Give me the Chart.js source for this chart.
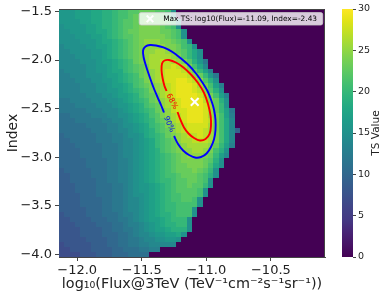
<!DOCTYPE html>
<html>
<head>
<meta charset="utf-8">
<script src="https://cdn.jsdelivr.net/npm/chart.js@4.4.1/dist/chart.umd.min.js"></script>
<style>
  html, body { margin: 0; padding: 0; background: #fff; }
  #wrap { position: relative; width: 389px; height: 299px; }
  #wrap canvas { position: absolute; left: 0; top: 0; }
</style>
</head>
<body>
<div id="wrap">
  <canvas id="main" width="389" height="299"></canvas>
  <canvas id="cbar" width="389" height="299"></canvas>
</div>
<script>
// TS scan: 50 x 50 cells over log10(flux) and spectral index
const fluxRange = [-12.141, -10.081];
const indexRange = [-4.0255, -1.4745];

// one string per index row, top row is index -1.5
// each char is the TS value in base 32 (0-9, a=10 ... u=30), cells past the end are 0
const tsRows = [
  "ggghhhiijjkllmmnnnmmlf",
  "ggghhhiijjkllmnnnnnmlf",
  "gggghhiijjklmmnnonnnmlf",
  "fgggghhijjklmmnoooonmlf",
  "ffggghhiijklmnnoooonnmlf",
  "fffggghhijklmmnooooonmlf",
  "ffffggghiijklmnopppoonmlf",
  "effffgghhijklmnoppppoonlkf",
  "eeffffgghijklmnoppqqponmkif",
  "eeefffgghijklmnopqqqqpomkif",
  "eeeefffghhijklnopqqrrqpomjgc",
  "eeeeeffgghijklmnoqqrrsrqolie",
  "deeeeffgghiiklmnopqrsssrpnkhd",
  "ddeeefffghhijklnopqrssssrpnkgc",
  "dddeeeffgghijklmopqrssttsrpmjf",
  "ddddeeeffghhijlmnopqrstttsqolhd",
  "ddddeeeffgghijklmopqrstttsrpmjf",
  "dddddeeeffghhijlmnoqrsttttsqolhd",
  "ccddddeeeffghijklnopqrsttttrpnjf",
  "cccddddeeefgghijlmnpqrsttttsqnkf",
  "cccccdddeeefghijklnoprsstttsqnkhc",
  "bbccccdddeeffghijlmopqrstttsqolhd",
  "bbbcccccddeefghijkmnoqrstttsrolie",
  "bbbbbccccddeffghiklmopqrssssqolie",
  "bbbbbbcccddeefghijlmnpqrsssrqolie9",
  "abbbbbbcccddeffgijklnopqrrsrqolie",
  "aabbbbbcccddeefghiklmnpqqrrrqolie",
  "aaabbbbbcccdeefghiklmnopqqqqpnkhd",
  "aaaabbbbcccdeefghijlmnoppqqpoljf",
  "aaaabbbbcccdeefghijklmnoppponkhe",
  "aaaaabbbbccddefghijklmnoooonmjf",
  "aaaaabbbbccddefghijklmnnooonlif",
  "9aaaaabbbccddefghijklmnnnonmkf",
  "99aaaabbbccddefghijkllmnnnmljf",
  "99aaaaabbccddefghijkklmmnnmlf",
  "999aaaabbbccdefgghijklmmnmmkf",
  "999aaaabbbccdefgghijklmmmmlf",
  "9999aaabbbccdeffghijkllmmmlf",
  "9999aaaabbccdeefghijkllmmlf",
  "9999aaaabbccdeefghijkkllllf",
  "99999aaabbccdeefghijkklllf",
  "89999aaabbbcddefghijjklllf",
  "889999aaabbccdefghhijkkkf",
  "8889999aaabbcddefghijjkkf",
  "88889999aabbccdefghhijjjf",
  "88889999aaabbcdeefgghhif",
  "888889999aabbccdeeffggf",
  "788888999aabbccddeeeee",
  "7788889999aabbbccdd",
  "7777888999aaabbbb"
];

// confidence contours [log10 flux, index], open where the inline label sits
const contour68 = [
  [-11.223,-2.534],[-11.200,-2.616],[-11.173,-2.693],[-11.138,-2.755],[-11.095,-2.801],
  [-11.049,-2.827],[-11.006,-2.812],[-10.975,-2.760],[-10.964,-2.678],[-10.967,-2.575],
  [-10.987,-2.452],[-11.018,-2.338],[-11.064,-2.236],[-11.119,-2.148],[-11.177,-2.076],
  [-11.235,-2.025],[-11.289,-1.999],[-11.324,-2.004],[-11.343,-2.035],[-11.347,-2.102],
  [-11.339,-2.184],[-11.324,-2.266],[-11.308,-2.318]
];
const contour90 = [
  [-11.250,-2.781],[-11.219,-2.863],[-11.180,-2.930],[-11.134,-2.976],[-11.088,-3.002],
  [-11.041,-2.997],[-10.998,-2.961],[-10.964,-2.894],[-10.940,-2.812],[-10.929,-2.719],
  [-10.929,-2.616],[-10.940,-2.513],[-10.960,-2.421],[-10.991,-2.318],[-11.033,-2.225],
  [-11.080,-2.138],[-11.134,-2.056],[-11.196,-1.984],[-11.262,-1.917],[-11.332,-1.870],
  [-11.390,-1.850],[-11.436,-1.845],[-11.471,-1.860],[-11.490,-1.901],[-11.486,-1.968],
  [-11.467,-2.061],[-11.436,-2.184],[-11.409,-2.282],[-11.378,-2.380],[-11.351,-2.462],
  [-11.328,-2.539]
];
const contourLabels = [
  { text: '68%', x: -11.266, y: -2.426, color: 'red', angle: 62 },
  { text: '90%', x: -11.289, y: -2.659, color: 'blue', angle: 67 }
];

const bestFit = { logFlux: -11.09, index: -2.43 };
const legendText = 'Max TS: log10(Flux)=-11.09, Index=-2.43';

const fluxTicks = [-12.0, -11.5, -11.0, -10.5];
const indexTicks = [-4.0, -3.5, -3.0, -2.5, -2.0, -1.5];
const tsTicks = [0, 5, 10, 15, 20, 25, 30];
const tsMax = 30;

const FONT = 'DejaVu Sans';
const INK = '#222';

const viridis = ['#440154','#471365','#482475','#443983','#414487','#3b528b','#355f8d',
  '#2f6c8e','#2a788e','#25848e','#21918c','#1e9c89','#22a884','#2fb47c','#44bf70',
  '#5ec962','#7ad151','#9bd93c','#bddf26','#dfe318','#fde725'];
const viridisRgb = viridis.map(h => [1, 3, 5].map(k => parseInt(h.slice(k, k + 2), 16)));

function viridisAt(t) {
  t = Math.max(0, Math.min(1, t));
  const p = t * (viridisRgb.length - 1);
  const k = Math.min(viridisRgb.length - 2, Math.floor(p));
  const f = p - k;
  const a = viridisRgb[k], b = viridisRgb[k + 1];
  const c = a.map((v, n) => Math.round(v + (b[n] - v) * f));
  return `rgb(${c[0]},${c[1]},${c[2]})`;
}

const minus = v => (v < 0 ? '\u2212' : '') + Math.abs(v).toFixed(1);

const heatmap = {
  id: 'heatmap',
  beforeDatasetsDraw(chart) {
    const { ctx, scales: { x, y } } = chart;
    const nx = 50, ny = tsRows.length;
    const dx = (fluxRange[1] - fluxRange[0]) / nx;
    const dy = (indexRange[1] - indexRange[0]) / ny;
    ctx.save();
    tsRows.forEach((row, j) => {
      // snap edges so neighbouring cells meet without seams
      const y0 = Math.round(y.getPixelForValue(indexRange[1] - j * dy));
      const y1 = Math.round(y.getPixelForValue(indexRange[1] - (j + 1) * dy));
      for (let i = 0; i < nx; i++) {
        const v = i < row.length ? parseInt(row[i], 32) : 0;
        const x0 = Math.round(x.getPixelForValue(fluxRange[0] + i * dx));
        const x1 = Math.round(x.getPixelForValue(fluxRange[0] + (i + 1) * dx));
        ctx.fillStyle = viridisAt(v / tsMax);
        ctx.fillRect(x0, y0, x1 - x0, y1 - y0);
      }
    });
    ctx.restore();
  }
};

function drawCross(ctx, cx, cy, r, color, lw) {
  ctx.beginPath();
  ctx.moveTo(cx - r, cy - r); ctx.lineTo(cx + r, cy + r);
  ctx.moveTo(cx - r, cy + r); ctx.lineTo(cx + r, cy - r);
  ctx.strokeStyle = color;
  ctx.lineWidth = lw;
  ctx.stroke();
}

const overlay = {
  id: 'overlay',
  afterDatasetsDraw(chart) {
    const { ctx, chartArea: a, scales: { x, y } } = chart;
    ctx.save();
    // inline contour labels
    ctx.font = `7.5px "${FONT}"`;
    ctx.textAlign = 'center';
    ctx.textBaseline = 'middle';
    contourLabels.forEach(l => {
      ctx.save();
      ctx.translate(x.getPixelForValue(l.x), y.getPixelForValue(l.y));
      ctx.rotate(l.angle * Math.PI / 180);
      ctx.fillStyle = l.color;
      ctx.fillText(l.text, 0, 0);
      ctx.restore();
    });

    // legend box
    const bw = 183.5, bh = 12.4;
    const bx = a.right - bw - 2.3, by = a.top + 3.6;
    ctx.beginPath();
    ctx.roundRect(bx, by, bw, bh, 2);
    ctx.fillStyle = 'rgba(255,255,255,0.8)';
    ctx.fill();
    ctx.strokeStyle = 'rgba(204,204,204,0.8)';
    ctx.lineWidth = 1;
    ctx.stroke();
    drawCross(ctx, bx + 10.8, by + bh / 2, 3.3, '#fff', 2);
    ctx.fillStyle = '#000';
    ctx.font = `7.4px "${FONT}"`;
    ctx.textAlign = 'left';
    ctx.fillText(legendText, bx + 24, by + bh / 2 + 0.5);

    // top and right spines
    ctx.strokeStyle = '#444';
    ctx.lineWidth = 1;
    ctx.beginPath();
    ctx.moveTo(a.left, a.top + 0.5); ctx.lineTo(a.right - 0.5, a.top + 0.5);
    ctx.lineTo(a.right - 0.5, a.bottom);
    ctx.stroke();
    ctx.restore();
  }
};

new Chart(document.getElementById('main'), {
  type: 'scatter',
  data: {
    datasets: [
      { label: '68%', data: contour68.map(([x, y]) => ({ x, y })), showLine: true,
        borderColor: 'red', borderWidth: 1.9, pointRadius: 0, tension: 0.3, fill: false },
      { label: '90%', data: contour90.map(([x, y]) => ({ x, y })), showLine: true,
        borderColor: 'blue', borderWidth: 1.9, pointRadius: 0, tension: 0.3, fill: false },
      { label: legendText, data: [{ x: bestFit.logFlux, y: bestFit.index }],
        pointStyle: 'crossRot', pointRadius: 5.5, borderWidth: 2,
        borderColor: '#fff', backgroundColor: '#fff' }
    ]
  },
  options: {
    responsive: false,
    animation: false,
    devicePixelRatio: 1,
    layout: { padding: { top: 9, right: 64, left: 0, bottom: 0 } },
    plugins: { legend: { display: false }, tooltip: { enabled: false } },
    scales: {
      x: {
        type: 'linear', min: fluxRange[0], max: fluxRange[1],
        afterBuildTicks: s => { s.ticks = fluxTicks.map(v => ({ value: v })); },
        afterFit: s => { s.height = 42; s.paddingLeft = 0; s.paddingRight = 0; },
        ticks: { callback: minus, font: { family: FONT, size: 13 }, color: INK, padding: 2, maxRotation: 0 },
        grid: { drawOnChartArea: false, tickLength: 4, color: '#444' },
        border: { color: '#444' },
        title: { display: true, text: 'log\u2081\u2080(Flux@3TeV (TeV\u207b\u00b9cm\u207b\u00b2s\u207b\u00b9sr\u207b\u00b9))',
          font: { family: FONT, size: 14.4 }, color: INK, padding: { top: 0, bottom: 6 } }
      },
      y: {
        type: 'linear', min: indexRange[0], max: indexRange[1],
        afterBuildTicks: s => { s.ticks = indexTicks.map(v => ({ value: v })); },
        afterFit: s => { s.width = 59; s.paddingTop = 0; s.paddingBottom = 0; },
        ticks: { callback: minus, font: { family: FONT, size: 13 }, color: INK, padding: 3 },
        grid: { drawOnChartArea: false, tickLength: 4, color: '#444' },
        border: { color: '#444' },
        title: { display: true, text: 'Index', font: { family: FONT, size: 14 }, color: INK,
          padding: { top: 4.5, bottom: 0 } }
      }
    }
  },
  plugins: [heatmap, overlay]
});

const colorbar = {
  id: 'colorbar',
  beforeDatasetsDraw(chart) {
    const { ctx, chartArea: a } = chart;
    const g = ctx.createLinearGradient(0, a.bottom, 0, a.top);
    viridis.forEach((c, k) => g.addColorStop(k / (viridis.length - 1), c));
    ctx.save();
    ctx.fillStyle = g;
    ctx.fillRect(a.left, a.top, a.right - a.left, a.bottom - a.top);
    ctx.restore();
  },
  afterDraw(chart) {
    const { ctx, chartArea: a } = chart;
    ctx.save();
    ctx.translate(376, (a.top + a.bottom) / 2);
    ctx.rotate(-Math.PI / 2);
    ctx.font = `10.5px "${FONT}"`;
    ctx.fillStyle = INK;
    ctx.textAlign = 'center';
    ctx.textBaseline = 'middle';
    ctx.fillText('TS Value', 0, 0);
    ctx.restore();
  }
};

new Chart(document.getElementById('cbar'), {
  type: 'scatter',
  data: { datasets: [] },
  options: {
    responsive: false,
    animation: false,
    devicePixelRatio: 1,
    layout: { padding: { left: 342, top: 9, bottom: 42, right: 0 } },
    plugins: { legend: { display: false }, tooltip: { enabled: false } },
    scales: {
      x: { display: false, min: 0, max: 1 },
      y: {
        position: 'right', min: 0, max: tsMax,
        afterBuildTicks: s => { s.ticks = tsTicks.map(v => ({ value: v })); },
        afterFit: s => { s.width = 36; s.paddingTop = 0; s.paddingBottom = 0; },
        ticks: { font: { family: FONT, size: 9.5 }, color: INK, padding: 2 },
        grid: { drawOnChartArea: false, tickLength: 3, color: '#444' },
        border: { display: false }
      }
    }
  },
  plugins: [colorbar]
});
</script>
</body>
</html>
